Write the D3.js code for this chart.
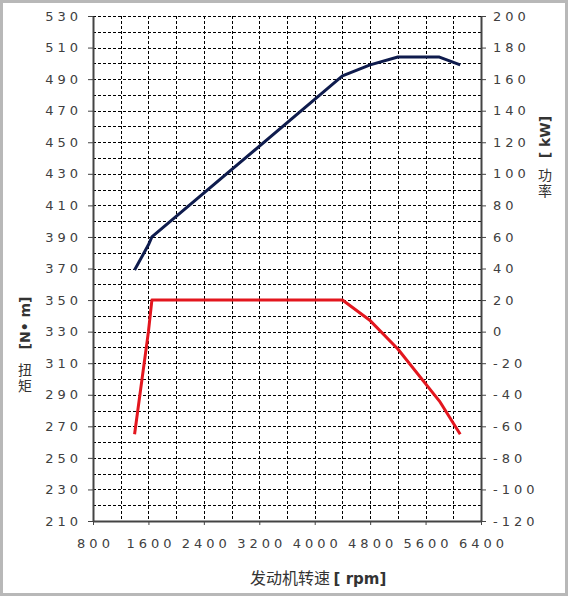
<!DOCTYPE html>
<html>
<head>
<meta charset="utf-8">
<script src="https://cdn.jsdelivr.net/npm/d3@7"></script>
<style>
    body { margin: 0; background: #fff; }
    svg text { font-family: "DejaVu Sans", sans-serif; }
</style>
</head>
<body>
<div id="chart"></div>
<script>
// Daten
const rpm = [1400, 1600, 1650, 4400, 4800, 5200, 5800, 6100];
const torque = [265, 330, 350, 350, 337, 319, 286, 265];
const power = [39, 55, 60, 162, 169, 174, 174, 169];

const xTicks = [800, 1600, 2400, 3200, 4000, 4800, 5600, 6400];
const xGrid = [1200, 1600, 2000, 2400, 2800, 3200, 3600, 4000, 4400, 4800, 5200, 5600, 6000];
const torqueTicks = [210, 230, 250, 270, 290, 310, 330, 350, 370, 390, 410, 430, 450, 470, 490, 510, 530];
const torqueGrid = [220, 230, 240, 250, 260, 270, 280, 290, 300, 310, 320, 330, 340, 350, 360, 370,
    380, 390, 400, 410, 420, 430, 440, 450, 460, 470, 480, 490, 500, 510, 520, 530];
const powerTicks = [-120, -100, -80, -60, -40, -20, 0, 20, 40, 60, 80, 100, 120, 140, 160, 180, 200];

const width = 570;
const height = 598;
const plot = { left: 93, right: 481, top: 16, bottom: 521 };

const svg = d3.select('#chart').append('svg')
    .attr('width', width)
    .attr('height', height);

// Rahmen
svg.append('rect')
    .attr('x', 1.5)
    .attr('y', 1.5)
    .attr('width', 565)
    .attr('height', 593)
    .attr('fill', '#fff')
    .attr('stroke', '#b8b8b8')
    .attr('stroke-width', 3);

const x = d3.scaleLinear().domain([800, 6400]).range([plot.left, plot.right]);
const yT = d3.scaleLinear().domain([210, 530]).range([plot.bottom, plot.top]);
const yP = d3.scaleLinear().domain([-120, 200]).range([plot.bottom, plot.top]);

// Gitterlinien
const grid = svg.append('g')
    .attr('stroke', '#000')
    .attr('stroke-width', 1)
    .attr('stroke-dasharray', '3,2');

grid.selectAll('.hgrid')
    .data(torqueGrid)
    .enter().append('line')
    .attr('x1', plot.left)
    .attr('x2', plot.right)
    .attr('y1', d => Math.round(yT(d)) + 0.5)
    .attr('y2', d => Math.round(yT(d)) + 0.5);

grid.selectAll('.vgrid')
    .data(xGrid)
    .enter().append('line')
    .attr('x1', d => Math.round(x(d)) + 0.5)
    .attr('x2', d => Math.round(x(d)) + 0.5)
    .attr('y1', plot.top)
    .attr('y2', plot.bottom);

const styleAxis = (g) => {
    g.select('.domain').attr('stroke', '#444').attr('stroke-width', 2);
    g.selectAll('.tick line').attr('stroke', '#444').attr('stroke-width', 1);
    g.selectAll('.tick text')
        .attr('fill', '#404040')
        .style('font-size', '13px')
        .style('letter-spacing', '4px');
};

const plain = d => String(d);

// Achsen
svg.append('g')
    .attr('transform', `translate(${plot.left},0)`)
    .call(d3.axisLeft(yT).tickValues(torqueTicks).tickFormat(plain).tickSize(5).tickSizeOuter(0).tickPadding(6))
    .call(styleAxis);

svg.append('g')
    .attr('transform', `translate(${plot.right},0)`)
    .call(d3.axisRight(yP).tickValues(powerTicks).tickFormat(plain).tickSize(5).tickSizeOuter(0).tickPadding(7))
    .call(styleAxis);

svg.append('g')
    .attr('transform', `translate(0,${plot.bottom})`)
    .call(d3.axisBottom(x).tickValues(xTicks).tickFormat(plain).tickSize(4).tickSizeOuter(0).tickPadding(14))
    .call(styleAxis)
    .selectAll('.tick text')
    .attr('dx', '2px');

// Kurven
const torqueLine = d3.line()
    .x((d, i) => x(rpm[i]))
    .y(d => yT(d));

const powerLine = d3.line()
    .x((d, i) => x(rpm[i]))
    .y(d => yP(d));

svg.append('path')
    .datum(torque)
    .attr('d', torqueLine)
    .attr('fill', 'none')
    .attr('stroke', '#e3161e')
    .attr('stroke-width', 3)
    .attr('stroke-linejoin', 'round');

svg.append('path')
    .datum(power)
    .attr('d', powerLine)
    .attr('fill', 'none')
    .attr('stroke', '#0e1b4d')
    .attr('stroke-width', 3)
    .attr('stroke-linejoin', 'round');

// Achsentitel: Einheit gedreht, chinesische Zeichen senkrecht
svg.append('text')
    .attr('transform', 'translate(30,323) rotate(-90)')
    .attr('text-anchor', 'middle')
    .style('font-size', '14px')
    .style('font-weight', '700')
    .style('fill', '#333')
    .text('[N• m]');

svg.append('text')
    .attr('x', 25)
    .attr('y', 363)
    .style('writing-mode', 'vertical-rl')
    .style('font-family', '"Noto Sans CJK SC"')
    .style('font-size', '14px')
    .style('letter-spacing', '1.5px')
    .style('fill', '#333')
    .text('扭矩');

svg.append('text')
    .attr('transform', 'translate(550,137) rotate(-90)')
    .attr('text-anchor', 'middle')
    .style('font-size', '14px')
    .style('font-weight', '700')
    .style('fill', '#333')
    .text('[ kW]');

svg.append('text')
    .attr('x', 545)
    .attr('y', 168)
    .style('writing-mode', 'vertical-rl')
    .style('font-family', '"Noto Sans CJK SC"')
    .style('font-size', '14px')
    .style('letter-spacing', '1.5px')
    .style('fill', '#333')
    .text('功率');

const xLabel = svg.append('text')
    .attr('x', 250)
    .attr('y', 584)
    .style('font-size', '16px')
    .style('fill', '#333');

xLabel.append('tspan')
    .style('font-family', '"Noto Sans CJK SC"')
    .text('发动机转速 ');

xLabel.append('tspan')
    .style('font-weight', '700')
    .style('font-size', '15px')
    .text('[ rpm]');
</script>
</body>
</html>
